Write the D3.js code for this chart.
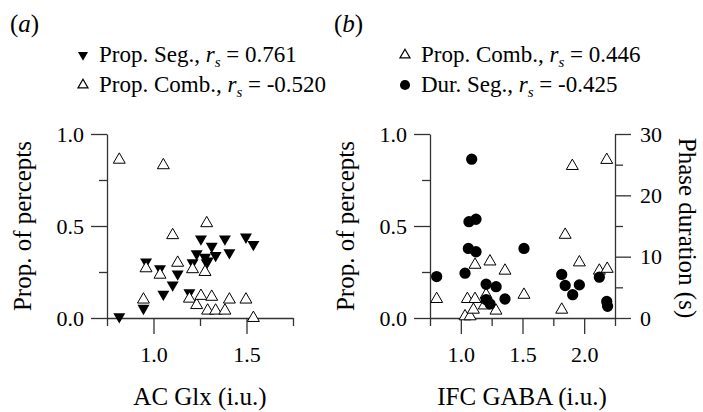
<!DOCTYPE html>
<html>
<head>
<meta charset="utf-8">
<script src="https://cdn.jsdelivr.net/npm/d3@7"></script>
<style>
  body { margin: 0; background: #fff; }
  svg { font-family: "Liberation Serif", "Times New Roman", serif; }
  .axis path, .axis line { stroke: #333; stroke-width: 1.3; }
  .axis text { font-family: "Liberation Serif", serif; font-size: 22px; fill: #000; }
</style>
</head>
<body>
<div id="chart"></div>
<script>
// Panel (a): AC Glx, one value per subject
var glxX    = [0.816, 0.946, 0.960, 1.035, 1.053, 1.103, 1.130, 1.193, 1.210, 1.232,
               1.255, 1.277, 1.286, 1.291, 1.313, 1.334, 1.384, 1.408, 1.497, 1.537];
var glxSeg  = [0.007, 0.053, 0.305, 0.268, 0.13, 0.18, 0.24, 0.138, 0.30, 0.35,
               0.43, 0.33, 0.30, 0.31, 0.39, 0.34, 0.43, 0.355, 0.44, 0.40];
var glxComb = [0.86, 0.10, 0.27, 0.235, 0.83, 0.45, 0.30, 0.105, 0.265, 0.07,
               0.12, 0.25, 0.515, 0.04, 0.115, 0.04, 0.04, 0.10, 0.10, 0.0];

// Panel (b): IFC GABA
var gabaCombX = [0.804, 1.034, 1.053, 1.075, 1.102, 1.115, 1.115, 1.190, 1.205, 1.236,
                 1.285, 1.358, 1.512, 1.818, 1.846, 1.904, 1.961, 2.123, 2.183, 2.187];
var gabaComb  = [0.103, 0.009, 0.103, 0.009, 0.045, 0.289, 0.103, 0.068, 0.126, 0.307,
                 0.04, 0.257, 0.126, 0.045, 0.452, 0.826, 0.302, 0.257, 0.859, 0.267];
var gabaDurX  = [0.804, 1.034, 1.061, 1.066, 1.088, 1.123, 1.123, 1.205, 1.205, 1.237,
                 1.286, 1.358, 1.512, 1.818, 1.846, 1.907, 1.961, 2.123, 2.183, 2.190];
var gabaDur   = [6.75, 7.3, 11.35, 15.7, 25.9, 16.1, 10.8, 5.5, 3.0, 2.3,
                 5.1, 3.1, 11.35, 7.1, 5.3, 3.8, 5.4, 6.65, 2.7, 1.9];

var propTicks = [0, 0.25, 0.5, 0.75, 1.0];
var propMajor = [0, 0.5, 1.0];
var glxTicks = [0.75, 1.0, 1.25, 1.5, 1.75];
var gabaTicks = [0.75, 1.0, 1.25, 1.5, 1.75, 2.0, 2.25];
var xMajor = [1.0, 1.5, 2.0];
var durTicks = [0, 5, 10, 15, 20, 25, 30];
var durMajor = [0, 10, 20, 30];

var width = 703, height = 412;
var svg = d3.select("#chart").append("svg")
  .attr("width", width)
  .attr("height", height);

var yTop = 134, yBot = 318;
var bigTick = 16, smallTick = 8;

function isMajor(list, v) {
  return list.some(function(m) { return Math.abs(m - v) < 1e-9; });
}

// shorten the minor tick lines after the axis is drawn
function styleTicks(g, majors, dir) {
  g.selectAll(".tick").each(function(d) {
    if (!isMajor(majors, d)) {
      var line = d3.select(this).select("line");
      if (dir == "x") line.attr("x2", line.attr("x2") > 0 ? smallTick : -smallTick);
      else line.attr("y2", smallTick);
    }
  });
}

var fmt = function(majors) {
  return function(d) { return isMajor(majors, d) ? d3.format(".1f")(d) : ""; };
};

var triUp = d3.symbol().type(d3.symbolTriangle).size(62);
var circle = d3.symbol().type(d3.symbolCircle).size(100);

function panel(left, right, xDomain, xTicks) {
  var x = d3.scaleLinear().domain(xDomain).range([left, right]);
  var y = d3.scaleLinear().domain([0, 1]).range([yBot, yTop]);

  var xAxis = d3.axisBottom(x).tickValues(xTicks).tickFormat(fmt(xMajor))
    .tickSize(bigTick).tickSizeOuter(0).tickPadding(12);
  var yAxis = d3.axisLeft(y).tickValues(propTicks).tickFormat(fmt(propMajor))
    .tickSize(bigTick).tickSizeOuter(0).tickPadding(7);

  var gx = svg.append("g").attr("class", "x axis")
    .attr("transform", "translate(0," + yBot + ")")
    .call(xAxis);
  styleTicks(gx, xMajor, "y");

  var gy = svg.append("g").attr("class", "y axis")
    .attr("transform", "translate(" + left + ",0)")
    .call(yAxis);
  styleTicks(gy, propMajor, "x");

  svg.append("text")
    .attr("transform", "translate(" + (left - 76) + "," + ((yTop + yBot) / 2) + ") rotate(-90)")
    .attr("text-anchor", "middle")
    .style("font-size", "25px")
    .text("Prop. of percepts");

  return {x: x, y: y};
}

// ---- panel (a)
var pa = panel(107, 293, [0.75, 1.75], glxTicks);

svg.append("g").selectAll("path")
  .data(glxX)
  .enter().append("path")
    .attr("d", triUp)
    .attr("transform", function(d, i) {
      return "translate(" + pa.x(d) + "," + pa.y(glxSeg[i]) + ") rotate(180)";
    })
    .attr("fill", "#000");

svg.append("g").selectAll("path")
  .data(glxX)
  .enter().append("path")
    .attr("d", triUp)
    .attr("transform", function(d, i) {
      return "translate(" + pa.x(d) + "," + pa.y(glxComb[i]) + ")";
    })
    .attr("fill", "#fff")
    .attr("stroke", "#000")
    .attr("stroke-width", 1);

svg.append("text")
  .attr("x", 200).attr("y", 405)
  .attr("text-anchor", "middle")
  .style("font-size", "25px")
  .text("AC Glx (i.u.)");

// ---- panel (b)
var pb = panel(430, 615, [0.75, 2.25], gabaTicks);

var yDur = d3.scaleLinear().domain([0, 30]).range([yBot, yTop]);
var durAxis = d3.axisRight(yDur).tickValues(durTicks)
  .tickFormat(function(d) { return isMajor(durMajor, d) ? d : ""; })
  .tickSize(bigTick).tickSizeOuter(0).tickPadding(9);
var gr = svg.append("g").attr("class", "y axis")
  .attr("transform", "translate(615,0)")
  .call(durAxis);
styleTicks(gr, durMajor, "x");

svg.append("g").selectAll("path")
  .data(gabaCombX)
  .enter().append("path")
    .attr("d", triUp)
    .attr("transform", function(d, i) {
      return "translate(" + pb.x(d) + "," + pb.y(gabaComb[i]) + ")";
    })
    .attr("fill", "#fff")
    .attr("stroke", "#000")
    .attr("stroke-width", 1);

svg.append("g").selectAll("path")
  .data(gabaDurX)
  .enter().append("path")
    .attr("d", circle)
    .attr("transform", function(d, i) {
      return "translate(" + pb.x(d) + "," + yDur(gabaDur[i]) + ")";
    })
    .attr("fill", "#000");

svg.append("text")
  .attr("x", 522).attr("y", 405)
  .attr("text-anchor", "middle")
  .style("font-size", "25px")
  .text("IFC GABA (i.u.)");

svg.append("text")
  .attr("transform", "translate(679,228) rotate(90)")
  .attr("text-anchor", "middle")
  .style("font-size", "25px")
  .text("Phase duration (s)");

// ---- panel letters
function panelLetter(xp, letter) {
  var t = svg.append("text").attr("x", xp).attr("y", 32).style("font-size", "25px");
  t.append("tspan").text("(");
  t.append("tspan").style("font-style", "italic").text(letter);
  t.append("tspan").text(")");
}
panelLetter(10, "a");
panelLetter(334, "b");

// ---- legends
var legendRows = [
  {x: 83, y: 62, sym: "down", name: "Prop. Seg., ", r: "0.761"},
  {x: 83, y: 92, sym: "up", name: "Prop. Comb., ", r: "-0.520"},
  {x: 405, y: 62, sym: "up", name: "Prop. Comb., ", r: "0.446"},
  {x: 405, y: 92, sym: "dot", name: "Dur. Seg., ", r: "-0.425"}
];

legendRows.forEach(function(row) {
  var m = svg.append("path").attr("transform", "translate(" + row.x + "," + (row.y - 7) + ")" + (row.sym == "down" ? " rotate(180)" : ""));
  if (row.sym == "dot") m.attr("d", d3.symbol().type(d3.symbolCircle).size(80)).attr("fill", "#000");
  else if (row.sym == "down") m.attr("d", d3.symbol().type(d3.symbolTriangle).size(44)).attr("fill", "#000");
  else m.attr("d", d3.symbol().type(d3.symbolTriangle).size(44)).attr("fill", "#fff").attr("stroke", "#000").attr("stroke-width", 1.2);

  var t = svg.append("text").attr("x", row.x + 16).attr("y", row.y).style("font-size", "23px");
  t.append("tspan").text(row.name);
  t.append("tspan").style("font-style", "italic").text("r");
  t.append("tspan").style("font-style", "italic").style("font-size", "15px").attr("dy", 5).text("s");
  t.append("tspan").attr("dy", -5).text(" = " + row.r);
});
</script>
</body>
</html>
